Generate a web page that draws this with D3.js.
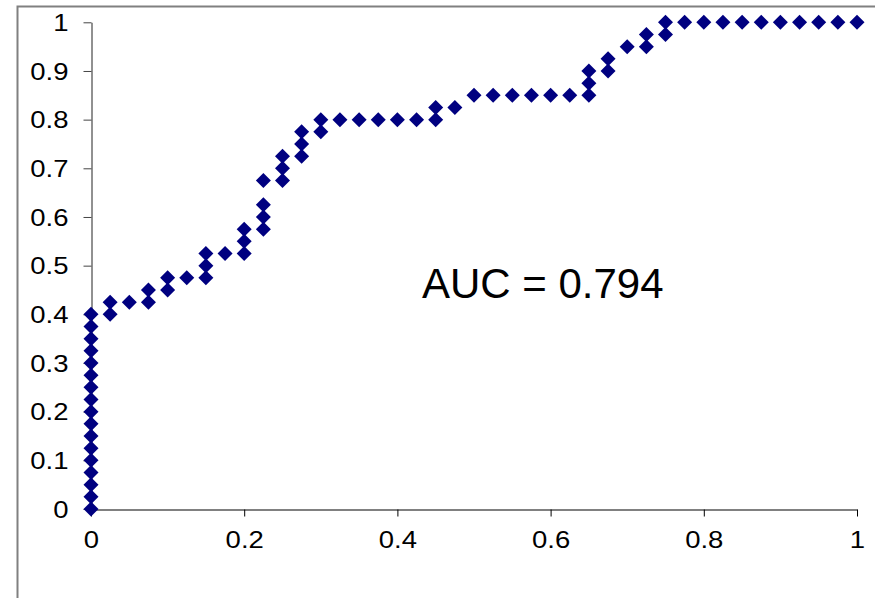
<!DOCTYPE html>
<html>
<head>
<meta charset="utf-8">
<script src="https://cdn.jsdelivr.net/npm/d3@7"></script>
<style>
  html, body { margin: 0; padding: 0; background: #fff; }
  svg { display: block; }
  text { font-family: "Liberation Sans", Arial, sans-serif; fill: #000; }
</style>
</head>
<body>
<svg id="chart" width="875" height="598"></svg>
<script>
// ROC points (false positive rate, true positive rate)
const fpr = [
  0,0,0,0,0,0,0,0,0,0,0,0,0,0,0,0,0,
  0.025,0.025,
  0.05,
  0.075,0.075,
  0.1,0.1,
  0.125,
  0.15,0.15,0.15,
  0.175,
  0.2,0.2,0.2,
  0.225,0.225,0.225,0.225,
  0.25,0.25,0.25,
  0.275,0.275,0.275,
  0.3,0.3,
  0.325,0.35,0.375,0.4,0.425,
  0.45,0.45,
  0.475,
  0.5,0.525,0.55,0.575,0.6,0.625,
  0.65,0.65,0.65,
  0.675,0.675,
  0.7,
  0.725,0.725,
  0.75,0.75,
  0.775,0.8,0.825,0.85,0.875,0.9,0.925,0.95,0.975,1
];
const tpr = [
  0,0.025,0.05,0.075,0.1,0.125,0.15,0.175,0.2,0.225,0.25,0.275,0.3,0.325,0.35,0.375,0.4,
  0.4,0.425,
  0.425,
  0.425,0.45,
  0.45,0.475,
  0.475,
  0.475,0.5,0.525,
  0.525,
  0.525,0.55,0.575,
  0.575,0.6,0.625,0.675,
  0.675,0.7,0.725,
  0.725,0.75,0.775,
  0.775,0.8,
  0.8,0.8,0.8,0.8,0.8,
  0.8,0.825,
  0.825,
  0.85,0.85,0.85,0.85,0.85,0.85,
  0.85,0.875,0.9,
  0.9,0.925,
  0.95,
  0.95,0.975,
  0.975,1,
  1,1,1,1,1,1,1,1,1,1
];
const xTicks = [0, 0.2, 0.4, 0.6, 0.8, 1];
const xTickLabels = ["0", "0.2", "0.4", "0.6", "0.8", "1"];
const yTicks = [0, 0.1, 0.2, 0.3, 0.4, 0.5, 0.6, 0.7, 0.8, 0.9, 1];
const yTickLabels = ["0", "0.1", "0.2", "0.3", "0.4", "0.5", "0.6", "0.7", "0.8", "0.9", "1"];
const annotation = "AUC = 0.794";

const svg = d3.select("#chart");

// outer chart frame
svg.append("rect")
  .attr("x", 17.5).attr("y", 6.5)
  .attr("width", 1000).attr("height", 1000)
  .attr("fill", "none").attr("stroke", "#808080").attr("stroke-width", 2);

const x = d3.scaleLinear().domain([0, 1]).range([91, 857]);
const y = d3.scaleLinear().domain([0, 1]).range([509, 22.3]);

const stretch = 1.17;
const tickFont = 23.5;

// Y axis
const yAxis = svg.append("g")
  .attr("transform", "translate(91.5,0)")
  .call(d3.axisLeft(y).tickValues(yTicks)
    .tickFormat((d, i) => yTickLabels[i]).tickSize(8).tickPadding(15).tickSizeOuter(0));
yAxis.select(".domain").attr("stroke", "#222").attr("stroke-width", 1);
yAxis.selectAll(".tick line").attr("stroke", "#444");
yAxis.selectAll(".tick text")
  .attr("font-size", tickFont)
  .attr("dy", "0.35em")
  .attr("transform", function() {
    const tx = +d3.select(this).attr("x");
    return `translate(${tx},0) scale(${stretch},1) translate(${-tx},0)`;
  });

// X axis
const xAxis = svg.append("g")
  .attr("transform", "translate(0,509.5)")
  .call(d3.axisBottom(x).tickValues(xTicks)
    .tickFormat((d, i) => xTickLabels[i]).tickSize(7).tickPadding(14.5).tickSizeOuter(0));
xAxis.select(".domain").attr("stroke", "#808080").attr("stroke-width", 2);
xAxis.selectAll(".tick line").attr("stroke", "#000");
xAxis.selectAll(".tick text")
  .attr("font-size", tickFont)
  .attr("dy", "0.71em")
  .attr("transform", `scale(${stretch},1)`);

// markers
const diamond = "M0,-7.5L7.5,0L0,7.5L-7.5,0Z";
svg.append("g").selectAll("path")
  .data(fpr.map((v, i) => [v, tpr[i]]))
  .join("path")
  .attr("d", diamond)
  .attr("transform", d => `translate(${x(d[0])},${y(d[1])})`)
  .attr("fill", "#000080");

// annotation
svg.append("text")
  .attr("x", x(0.432)).attr("y", 298)
  .attr("font-size", 42)
  .text(annotation);
</script>
</body>
</html>
